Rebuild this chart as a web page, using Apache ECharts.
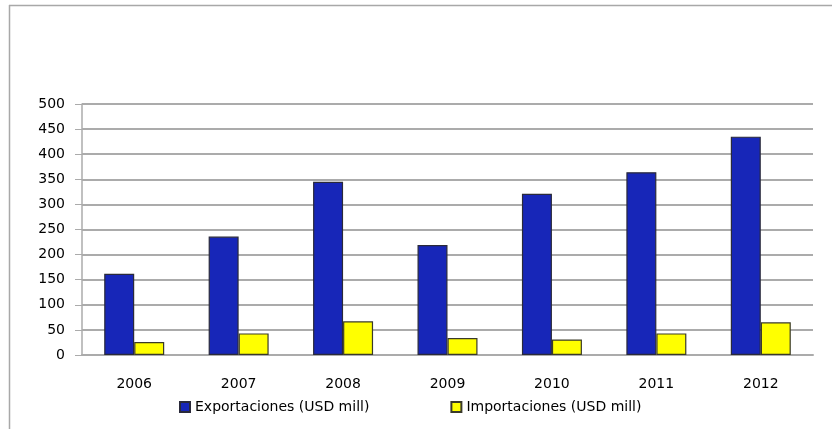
<!DOCTYPE html>
<html>
<head>
<meta charset="utf-8">
<script src="https://cdn.jsdelivr.net/npm/echarts@6/dist/echarts.min.js"></script>
<style>
  html, body { margin: 0; padding: 0; background: #fff; }
  #chart { width: 832px; height: 429px; }
</style>
</head>
<body>
<div id="chart"></div>
<script>
// Years on the category axis
const years = ['2006', '2007', '2008', '2009', '2010', '2011', '2012'];
// Exports and imports, millions of USD
const exportaciones = [162, 236, 345, 219, 321, 364, 435];
const importaciones = [26, 43, 67, 34, 31, 43, 65];
// Value-axis range and step
const yMin = 0, yMax = 500, yStep = 50;

const chart = echarts.init(document.getElementById('chart'), null, { renderer: 'canvas' });
const font = 'DejaVu Sans';
const frameColor = '#a8a8a8';
const gridColor = '#ababab';

chart.setOption({
  animation: false,
  backgroundColor: '#ffffff',
  textStyle: { fontFamily: font },
  graphic: [
    { type: 'line', shape: { x1: 9, y1: 5.5, x2: 832, y2: 5.5 }, style: { stroke: frameColor, lineWidth: 1.5 } },
    { type: 'line', shape: { x1: 9.5, y1: 5, x2: 9.5, y2: 429 }, style: { stroke: frameColor, lineWidth: 1.5 } }
  ],
  grid: { left: 82, right: 19, top: 104, bottom: 74, containLabel: false },
  legend: {
    bottom: 10,
    left: 174,
    itemWidth: 10,
    itemHeight: 10,
    itemGap: 81,
    icon: 'rect',
    textStyle: { fontFamily: font, fontSize: 14, color: '#000' },
    data: ['Exportaciones (USD mill)', 'Importaciones (USD mill)']
  },
  xAxis: {
    type: 'category',
    data: years,
    axisLine: { show: true, lineStyle: { color: gridColor, width: 2 } },
    axisTick: { show: false },
    axisLabel: { color: '#000', fontSize: 14, fontFamily: font, margin: 22 }
  },
  yAxis: {
    type: 'value',
    min: yMin,
    max: yMax,
    interval: yStep,
    axisLine: { show: true, lineStyle: { color: gridColor, width: 1.5 } },
    axisTick: { show: true, length: 7, lineStyle: { color: gridColor, width: 1 } },
    axisLabel: { color: '#000', fontSize: 14, fontFamily: font, margin: 17 },
    splitLine: { show: true, lineStyle: { color: gridColor, width: 2 } }
  },
  series: [
    {
      name: 'Exportaciones (USD mill)',
      type: 'bar',
      data: exportaciones,
      barWidth: 30,
      barGap: '0%',
      itemStyle: { color: '#1726b8', borderColor: '#2a2a3a', borderWidth: 1.2 }
    },
    {
      name: 'Importaciones (USD mill)',
      type: 'bar',
      data: importaciones,
      barWidth: 30,
      barGap: '0%',
      itemStyle: { color: '#ffff00', borderColor: '#3a3a2a', borderWidth: 1.2 }
    }
  ]
});
</script>
</body>
</html>
